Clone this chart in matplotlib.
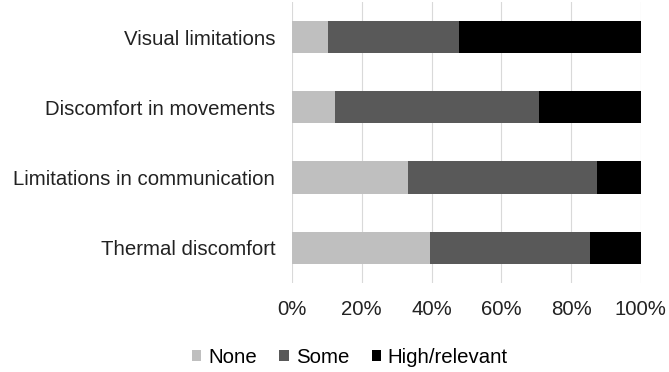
import matplotlib
matplotlib.use('Agg')
import matplotlib.pyplot as plt
from matplotlib.ticker import PercentFormatter

plt.rcParams['font.family'] = ['Liberation Sans', 'DejaVu Sans']

categories = ['Visual limitations', 'Discomfort in movements',
              'Limitations in communication', 'Thermal discomfort']
none = [10.2, 12.4, 33.2, 39.5]
some = [37.6, 58.4, 54.3, 46.0]
high = [52.2, 29.2, 12.5, 14.5]

colors = ['#BFBFBF', '#595959', '#000000']
labels = ['None', 'Some', 'High/relevant']

fig = plt.figure(figsize=(6.69, 3.72), dpi=100)
ax = fig.add_axes([0.4365, 0.239, 0.5215, 0.756])

y = list(range(len(categories)))
left = [0.0] * len(categories)
for vals, c, lab in zip([none, some, high], colors, labels):
    ax.barh(y, vals, left=left, height=0.46, color=c, label=lab, zorder=3)
    left = [a + b for a, b in zip(left, vals)]

ax.set_xlim(0, 100)
ax.set_ylim(3.5, -0.5)
ax.set_yticks(y)
ax.set_yticklabels(categories, fontsize=14.7)
ax.set_xticks([0, 20, 40, 60, 80, 100])
ax.xaxis.set_major_formatter(PercentFormatter(decimals=0))
ax.tick_params(axis='x', labelsize=14.7, length=0, pad=12, colors='#222222')
ax.tick_params(axis='y', length=0, pad=12, colors='#222222')
ax.grid(axis='x', color='#D9D9D9', linewidth=0.8, zorder=0)
for s in ax.spines.values():
    s.set_visible(False)

fig.legend(loc='lower center', bbox_to_anchor=(0.523, -0.035), ncol=3, frameon=False,
           fontsize=14.7, handlelength=0.45, handleheight=0.45, handletextpad=0.35,
           columnspacing=1.1)

fig.savefig('out.png', dpi=100)
